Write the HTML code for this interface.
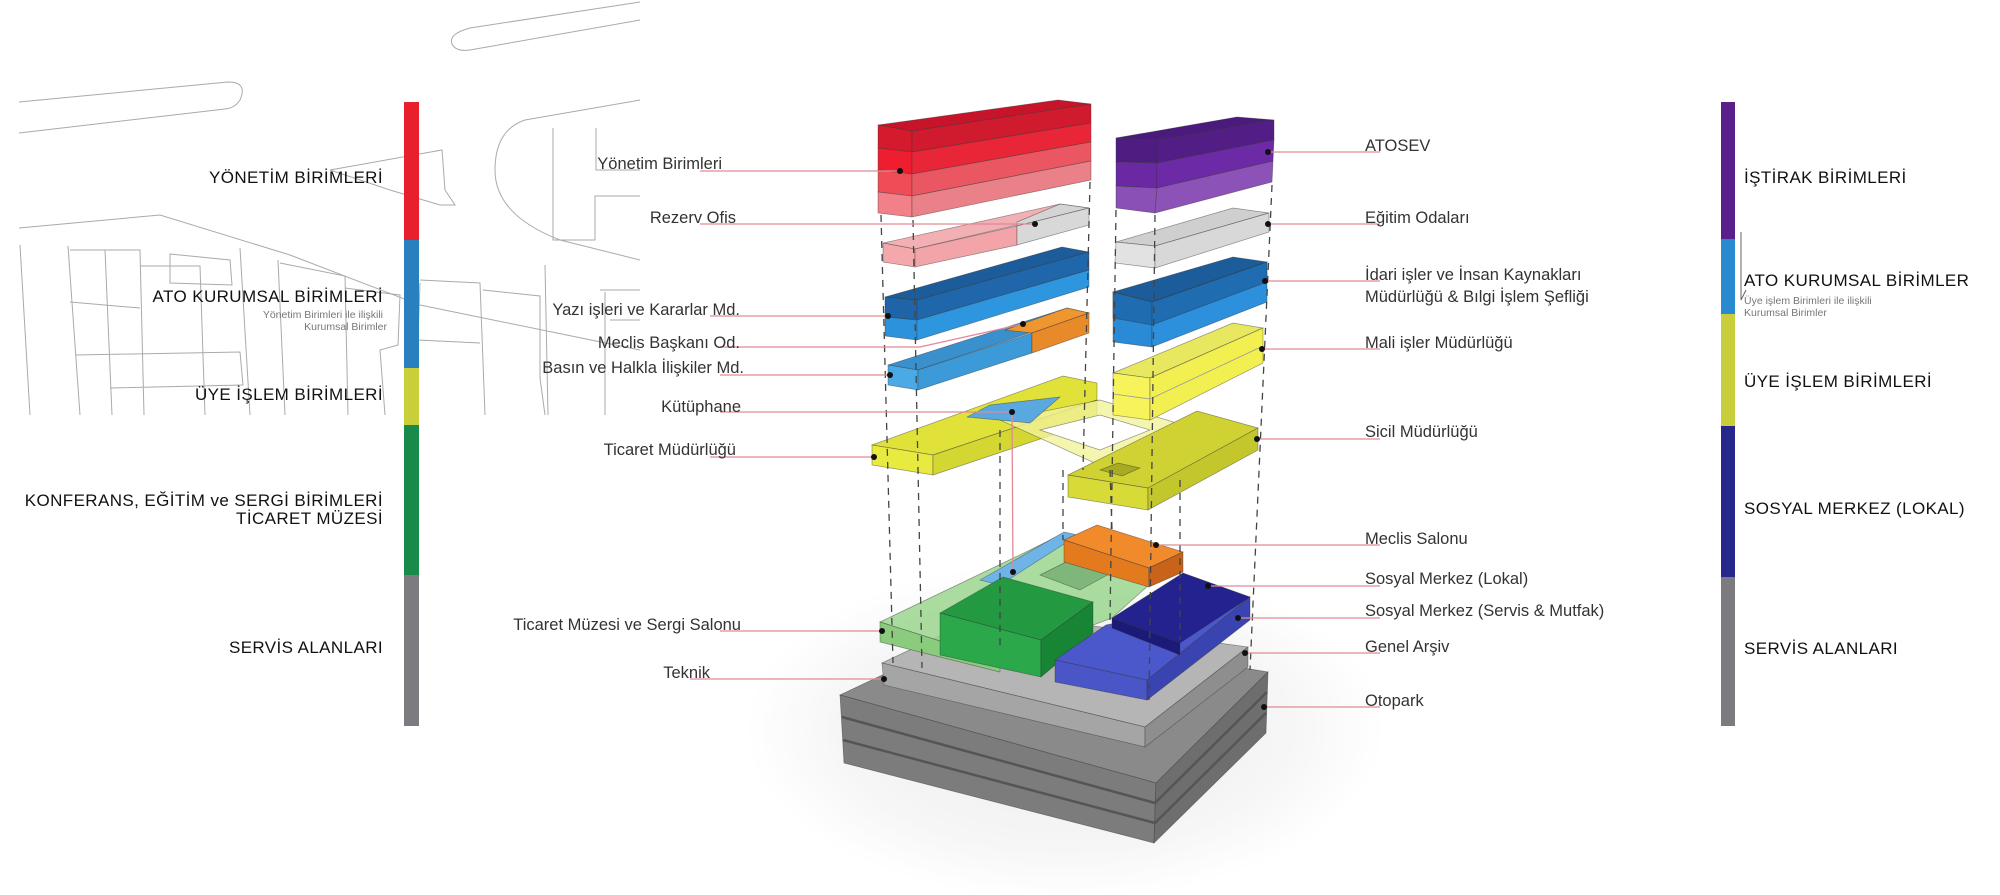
<!DOCTYPE html>
<html><head><meta charset="utf-8"><style>
html,body{margin:0;padding:0;background:#fff;}
svg{display:block;}
text{font-family:"Liberation Sans",sans-serif;fill:#222;}
.lb{font-size:16.5px;fill:#333;}
.big{font-size:17px;letter-spacing:0.4px;fill:#111;}
.sub{font-size:10.5px;fill:#777;}
.ld{stroke:#e08a96;stroke-width:1.3;fill:none;}
.dash{stroke:#444;stroke-width:1.3;stroke-dasharray:7 6;fill:none;}
.map{stroke:#aaa;stroke-width:1;fill:none;}
.e{stroke:#333;stroke-width:0.7;stroke-opacity:.5;}
</style></head><body>
<svg width="2000" height="895" viewBox="0 0 2000 895" xmlns="http://www.w3.org/2000/svg">
<defs>
<radialGradient id="sh" cx="50%" cy="50%" r="50%">
<stop offset="0" stop-color="#ececec"/><stop offset=".7" stop-color="#f6f6f6"/><stop offset="1" stop-color="#fff"/>
</radialGradient>
</defs>
<!-- map -->
<g class="map">
<path d="M19 102 L228 82 Q248 82 240 100 Q235 108 225 109 L19 133"/>
<path d="M640 2 L470 28 Q448 34 452 44 Q456 52 470 50 L640 20"/>
<path d="M19 228 L160 215 L290 255 L420 305 L640 350"/>
<path d="M330 170 L442 150 L445 190 L455 205 L440 205 L390 190 Z"/>
<path d="M640 100 L525 120 Q495 130 495 170 Q495 215 560 240 L640 260"/>
<path d="M553 128 L553 240 L595 240 L595 196 L640 196"/>
<path d="M596 128 L596 170 L640 170"/>
<path d="M20 245 L30 415 M68 246 L80 415 M70 250 L140 250 L144 415 M105 250 L112 415 M140 266 L200 266 L205 415 M70 302 L140 308 M76 355 L240 352 L243 385 L110 388 M170 254 L230 260 L232 285 L170 283 Z M240 248 L250 415 M278 260 L285 415 M280 263 L345 276 L348 415 M345 288 L400 295 L398 345 L380 350 L385 415 M420 280 L480 283 L485 415 M420 283 L418 340 L480 343 M483 290 L540 296 L540 378 L545 415 M545 265 L548 415 M600 290 L640 290 M605 292 L605 415 M610 320 L640 320"/>
</g>
<!-- shadow -->
<ellipse cx="1065" cy="730" rx="320" ry="170" fill="url(#sh)"/>

<!-- LEFT BAR -->
<rect x="404" y="102" width="15" height="138" fill="#e8202e"/>
<rect x="404" y="240" width="15" height="128" fill="#2a7fc1"/>
<rect x="404" y="368" width="15" height="57" fill="#c8cf3a"/>
<rect x="404" y="425" width="15" height="150" fill="#1a8a4a"/>
<rect x="404" y="575" width="15" height="151" fill="#7c7c80"/>
<text class="big" x="383" y="183" text-anchor="end">YÖNETİM BİRİMLERİ</text>
<text class="big" x="383" y="302" text-anchor="end">ATO KURUMSAL BİRİMLERİ</text>
<text class="sub" x="383" y="318" text-anchor="end">Yönetim Birimleri ile ilişkili</text>
<text class="sub" x="387" y="330" text-anchor="end">Kurumsal Birimler</text>
<text class="big" x="383" y="400" text-anchor="end">ÜYE İŞLEM BİRİMLERİ</text>
<text class="big" x="383" y="506" text-anchor="end">KONFERANS, EĞİTİM ve SERGİ BİRİMLERİ</text>
<text class="big" x="383" y="524" text-anchor="end">TİCARET MÜZESİ</text>
<text class="big" x="383" y="653" text-anchor="end">SERVİS ALANLARI</text>

<!-- RIGHT BAR -->
<rect x="1721" y="102" width="14" height="137" fill="#5a1f8a"/>
<rect x="1721" y="239" width="14" height="75" fill="#2a8ad0"/>
<rect x="1721" y="314" width="14" height="112" fill="#c8cf3a"/>
<rect x="1721" y="426" width="14" height="151" fill="#25278a"/>
<rect x="1721" y="577" width="14" height="149" fill="#7c7c80"/>
<path d="M1741 232 L1741 300 L1746 290" stroke="#666" stroke-width="1" fill="none"/>
<text class="big" x="1744" y="183">İŞTİRAK BİRİMLERİ</text>
<text class="big" x="1744" y="286">ATO KURUMSAL BİRİMLER</text>
<text class="sub" x="1744" y="304">Üye işlem Birimleri ile ilişkili</text>
<text class="sub" x="1744" y="316">Kurumsal Birimler</text>
<text class="big" x="1744" y="387">ÜYE İŞLEM BİRİMLERİ</text>
<text class="big" x="1744" y="514">SOSYAL MERKEZ  (LOKAL)</text>
<text class="big" x="1744" y="654">SERVİS ALANLARI</text>

<!-- PARKING STACK -->
<g class="e">
<polygon points="840,695 988,625 1268,672 1156,783" fill="#8a8a8a"/>
<polygon points="840,695 1156,783 1154,843 844,763" fill="#7c7c7c"/>
<polygon points="1156,783 1268,672 1266,733 1154,843" fill="#6e6e6e"/>
</g>
<path d="M842 717 L1155 803 L1267 692 M843 740 L1155 823 L1266 713" stroke="#555" stroke-width="2.5" fill="none"/>
<!-- Teknik slab -->
<g class="e">
<polygon points="882,663 990,612 1248,647 1145,727" fill="#b5b5b5"/>
<polygon points="882,663 1145,727 1145,747 884,685" fill="#a5a5a5"/>
<polygon points="1145,727 1248,647 1248,667 1145,747" fill="#8e8e8e"/>
</g>
<!-- light green slab -->
<polygon class="e" points="880,622 1026,552 1064,533 1160,575 1112,618 1000,660" fill="#9bd68f" fill-opacity=".85"/>
<polygon class="e" points="880,622 1000,660 1000,672 880,642" fill="#8acb7e"/>
<polygon class="e" points="1040,575 1080,555 1120,568 1080,590" fill="#7fb77a"/>
<polygon class="e" points="980,580 1064,532 1078,535 1000,585" fill="#6fb4e6"/>
<!-- green box -->
<g class="e">
<polygon points="940,613 1003,577 1093,602 1041,640" fill="#239a42"/>
<polygon points="940,613 1041,640 1041,677 940,655" fill="#2aa84a"/>
<polygon points="1041,640 1093,602 1093,633 1041,677" fill="#178533"/>
</g>
<!-- orange -->
<g class="e">
<polygon points="1064,540 1097,525 1183,552 1149,568" fill="#f08a2a"/>
<polygon points="1064,540 1149,568 1149,587 1064,562" fill="#e47a1e"/>
<polygon points="1149,568 1183,552 1183,572 1149,587" fill="#c9631a"/>
</g>
<!-- blue slab + navy -->
<g class="e">
<polygon points="1055,660 1106,625 1250,597 1147,680" fill="#4a58cc"/>
<polygon points="1055,660 1147,680 1147,700 1055,682" fill="#4a55c8"/>
<polygon points="1147,680 1250,597 1250,620 1147,700" fill="#3a44b0"/>
<polygon points="1112,618 1183,573 1250,597 1180,643" fill="#23228e"/>
<polygon points="1112,618 1180,643 1180,655 1112,628" fill="#1b1a78"/>
</g>

<!-- MIDDLE YELLOW LEVEL -->
<g class="e">
<polygon points="872,445 1063,376 1097,383 1097,400 933,455" fill="#e0e23a"/>
<polygon points="872,445 933,455 933,475 872,465" fill="#e8ea40"/>
<polygon points="933,455 1097,400 1097,420 933,475" fill="#d4d632"/>
<polygon points="1000,420 1100,400 1200,430 1110,470" fill="#f1f29a" fill-opacity=".8"/>
<polygon points="1040,430 1100,415 1150,430 1100,450" fill="#fff"/>
<polygon points="967,417 990,405 1060,397 1030,423" fill="#5aa8e0"/>
<polygon points="1068,475 1197,411 1258,428 1148,488" fill="#cfd232"/>
<polygon points="1068,475 1148,488 1148,510 1068,497" fill="#d8da38"/>
<polygon points="1148,488 1258,428 1258,450 1148,510" fill="#c4c72c"/>
<polygon points="1100,470 1118,463 1140,468 1122,476" fill="#a8aa20"/>
</g>
<!-- Mali yellow -->
<g class="e">
<polygon points="1113,373 1233,323 1263,328 1150,378" fill="#e8e860"/>
<polygon points="1113,373 1150,378 1150,420 1113,415" fill="#f6f45a"/>
<polygon points="1150,378 1263,328 1263,363 1150,420" fill="#f2f050"/>
</g>
<path d="M1113 394 L1150 399 L1263 346" stroke="#999" stroke-width=".8" fill="none"/>
<!-- right blue -->
<g class="e">
<polygon points="1113,292 1233,257 1267,262 1152,302" fill="#1d5c9a"/>
<polygon points="1113,292 1152,302 1152,347 1113,342" fill="#2a8ad6"/>
<polygon points="1152,302 1267,262 1267,302 1152,347" fill="#2c90dc"/>
<polygon points="1113,292 1152,302 1152,325 1113,318" fill="#1f6cb0"/>
<polygon points="1152,302 1267,262 1267,282 1152,325" fill="#1f6cb0"/>
</g>
<!-- right grey -->
<g class="e">
<polygon points="1116,242 1233,208 1269,213 1155,246" fill="#cfcfcf"/>
<polygon points="1116,242 1155,246 1155,268 1115,263" fill="#e2e2e2"/>
<polygon points="1155,246 1269,213 1269,232 1155,268" fill="#d8d8d8"/>
</g>
<!-- purple -->
<g class="e">
<polygon points="1116,138 1237,117 1274,120 1157,140" fill="#4a1a7c"/>
<polygon points="1116,138 1157,140 1157,163 1116,162" fill="#4f1d82"/>
<polygon points="1157,140 1274,120 1274,140 1157,163" fill="#521e86"/>
<polygon points="1116,162 1157,163 1157,188 1116,186" fill="#6a28a2"/>
<polygon points="1157,163 1274,140 1273,161 1157,188" fill="#6d2aa6"/>
<polygon points="1116,186 1157,188 1155,213 1116,208" fill="#8a50b6"/>
<polygon points="1157,188 1273,161 1272,182 1155,213" fill="#8c52b8"/>
</g>
<!-- red -->
<g class="e">
<polygon points="878,125 1058,100 1091,104 912,131" fill="#c8142a"/>
<polygon points="878,125 912,131 912,152 878,148" fill="#d41a2c"/>
<polygon points="912,131 1091,104 1091,123 912,152" fill="#d01a2e"/>
<polygon points="878,148 912,152 912,174 878,170" fill="#ee1e30"/>
<polygon points="912,152 1091,123 1091,142 912,174" fill="#e82638"/>
<polygon points="878,170 912,174 912,196 878,192" fill="#f04c58"/>
<polygon points="912,174 1091,142 1091,161 912,196" fill="#ea5662"/>
<polygon points="878,192 912,196 912,217 878,213" fill="#f28088"/>
<polygon points="912,196 1091,161 1091,180 912,217" fill="#ea8088"/>
</g>
<!-- rezerv -->
<g class="e">
<polygon points="883,243 1060,204 1089,208 915,249" fill="#f2b0b4"/>
<polygon points="1017,222 1060,204 1089,208 1017,226" fill="#d4d4d4"/>
<polygon points="883,243 915,249 915,267 883,262" fill="#f4a8ac"/>
<polygon points="915,249 1017,226 1017,245 915,267" fill="#f2a4a8"/>
<polygon points="1017,226 1089,208 1089,225 1017,245" fill="#d8d8d8"/>
</g>
<!-- yazi isleri blue -->
<g class="e">
<polygon points="885,297 1062,247 1089,252 917,300" fill="#1d5c9a"/>
<polygon points="885,297 917,300 917,320 885,317" fill="#1f64a8"/>
<polygon points="917,300 1089,252 1089,270 917,320" fill="#1f66aa"/>
<polygon points="885,317 917,320 917,340 885,336" fill="#2c92dc"/>
<polygon points="917,320 1089,270 1089,287 917,340" fill="#2e96de"/>
</g>
<!-- basin + orange -->
<g class="e">
<polygon points="888,365 1067,308 1089,313 918,370" fill="#3a90cc"/>
<polygon points="1005,330 1067,308 1089,313 1032,333" fill="#f0962e"/>
<polygon points="888,365 918,370 918,390 888,385" fill="#4aaae6"/>
<polygon points="918,370 1032,333 1032,353 918,390" fill="#3c9ad8"/>
<polygon points="1032,333 1089,313 1089,333 1032,353" fill="#e8892a"/>
</g>

<!-- dashed -->
<path class="dash" d="M881 215 L893 663 M913 220 L922 668 M1090 182 L1083 470 M1116 210 L1110 620 M1155 215 L1149 700 M1272 185 L1250 670 M1000 430 L1000 650 M1063 470 L1063 540 M1110 470 L1112 530 M1180 480 L1180 640"/>

<!-- leaders -->
<g class="ld">
<path d="M700 171 L900 171"/>
<path d="M700 224 L1035 224"/>
<path d="M710 316 L888 316"/>
<path d="M720 347 L920 347 L1023 324"/>
<path d="M720 375 L890 375"/>
<path d="M720 412 L1012 412 L1013 572"/>
<path d="M710 457 L874 457"/>
<path d="M720 631 L882 631"/>
<path d="M690 679 L884 679"/>
<path d="M1268 152 L1380 152"/>
<path d="M1268 224 L1380 224"/>
<path d="M1265 281 L1380 281"/>
<path d="M1262 349 L1380 349"/>
<path d="M1257 439 L1380 439"/>
<path d="M1156 545 L1380 545"/>
<path d="M1208 586 L1380 586"/>
<path d="M1238 618 L1380 618"/>
<path d="M1245 653 L1380 653"/>
<path d="M1264 707 L1380 707"/>
</g>
<g fill="#111">
<circle cx="900" cy="171" r="3"/><circle cx="1035" cy="224" r="3"/><circle cx="888" cy="316" r="3"/>
<circle cx="1023" cy="324" r="3"/><circle cx="890" cy="375" r="3"/><circle cx="1012" cy="412" r="3"/>
<circle cx="1013" cy="572" r="3"/><circle cx="874" cy="457" r="3"/><circle cx="882" cy="631" r="3"/>
<circle cx="884" cy="679" r="3"/><circle cx="1268" cy="152" r="3"/><circle cx="1268" cy="224" r="3"/>
<circle cx="1265" cy="281" r="3"/><circle cx="1262" cy="349" r="3"/><circle cx="1257" cy="439" r="3"/>
<circle cx="1156" cy="545" r="3"/><circle cx="1208" cy="586" r="3"/><circle cx="1238" cy="618" r="3"/>
<circle cx="1245" cy="653" r="3"/><circle cx="1264" cy="707" r="3"/>
</g>

<!-- labels -->
<g class="lb">
<text x="722" y="169" text-anchor="end" class="lb">Yönetim Birimleri</text>
<text x="736" y="223" text-anchor="end" class="lb">Rezerv Ofis</text>
<text x="740" y="315" text-anchor="end" class="lb">Yazı işleri ve Kararlar Md.</text>
<text x="740" y="348" text-anchor="end" class="lb">Meclis Başkanı Od.</text>
<text x="744" y="373" text-anchor="end" class="lb">Basın ve Halkla İlişkiler Md.</text>
<text x="741" y="412" text-anchor="end" class="lb">Kütüphane</text>
<text x="736" y="455" text-anchor="end" class="lb">Ticaret Müdürlüğü</text>
<text x="741" y="630" text-anchor="end" class="lb">Ticaret Müzesi ve Sergi Salonu</text>
<text x="710" y="678" text-anchor="end" class="lb">Teknik</text>
<text x="1365" y="151" class="lb">ATOSEV</text>
<text x="1365" y="223" class="lb">Eğitim Odaları</text>
<text x="1365" y="280" class="lb">İdari işler ve İnsan Kaynakları</text>
<text x="1365" y="302" class="lb">Müdürlüğü &amp; Bılgi İşlem Şefliği</text>
<text x="1365" y="348" class="lb">Mali işler Müdürlüğü</text>
<text x="1365" y="437" class="lb">Sicil Müdürlüğü</text>
<text x="1365" y="544" class="lb">Meclis Salonu</text>
<text x="1365" y="584" class="lb">Sosyal Merkez (Lokal)</text>
<text x="1365" y="616" class="lb">Sosyal Merkez (Servis &amp; Mutfak)</text>
<text x="1365" y="652" class="lb">Genel Arşiv</text>
<text x="1365" y="706" class="lb">Otopark</text>
</g>
</svg>
</body></html>
